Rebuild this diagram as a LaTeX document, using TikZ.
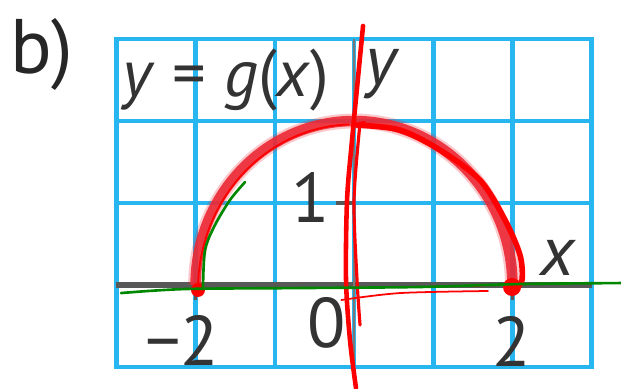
\documentclass[tikz,border=0pt]{standalone}
\usepackage{fontspec}
\setmainfont{PT Sans}
\usetikzlibrary{positioning}

\definecolor{gridblue}{RGB}{40,182,240}
\definecolor{axisgray}{RGB}{88,88,88}
\definecolor{curvered}{RGB}{236,40,52}
\definecolor{penred}{RGB}{255,0,0}
\definecolor{pengreen}{RGB}{0,135,0}

\begin{document}
\begin{tikzpicture}[
  x=1.584cm, y=1.64cm,
  gridline/.style={draw=gridblue, line width=2.6pt, line cap=rect},
  axis/.style={draw=axisgray, line width=3.4pt},
  yaxis/.style={draw=axisgray!80, line width=1.6pt},
  tickmark/.style={draw=axisgray, line width=2pt},
  curve/.style={draw=curvered, line width=6pt, opacity=0.9},
  pen/.style={draw=penred, line width=1.2pt, line cap=round, line join=round},
  greenpen/.style={draw=pengreen, line width=1.5pt, line cap=round, line join=round},
  lbl/.style={font=\fontsize{40}{44}\selectfont, text=black!80, inner sep=0pt},
]
\useasboundingbox (-4.47,-1.256) rectangle (3.371,3.476);

% ---- grid and axes ----------------------------------------------
\foreach \i in {-3,...,3}
  \draw[gridline] (\i,-1) -- (\i,3);
\foreach \j in {-1,...,3}
  \draw[gridline] (-3,\j) -- (3,\j);

\draw[axis]  (-3,0) -- (3,0);
\draw[yaxis] (0,-1) -- (0,3);
\draw[tickmark] (-0.227,1) -- (0,1);
\draw[tickmark] (-2,0) -- (-2,-0.18);
\draw[tickmark] (2,0) -- (2,-0.18);

% ---- graph of g -------------------------------------------------
\draw[curve, line width=8.5pt, opacity=0.25] (-2,0) arc[start angle=180, end angle=0, x radius=2, y radius=2];
\draw[curve] (-2,0) arc[start angle=180, end angle=0, x radius=2, y radius=2];

% ---- labels -----------------------------------------------------
\node[lbl, font=\fontsize{44}{48}\selectfont, text=black!85, anchor=base west] (part) at (-4.343,2.585) {b)};
\node[lbl, font=\fontsize{38}{42}\selectfont, anchor=base west] (gx) at (-2.93,2.293) {\textit{y} = \textit{g}(\textit{x})};
\node[lbl, anchor=base west] (ylab) at (0.139,2.44) {\textit{y}};
\node[lbl, anchor=base west] (xlab) at (2.348,0.122) {\textit{x}};
\node[lbl, anchor=base east] (one) at (-0.30,0.768) {1};
\node[lbl, anchor=base east] (zero) at (-0.10,-0.756) {0};
\node[lbl, anchor=base east] (mtwo) at (-1.70,-0.976) {−2};
\node[lbl, anchor=base] (ptwo) at (1.989,-0.988) {2};

% ---- hand marks -------------------------------------------------
\draw[pen, line width=1pt] (-1.97,-0.06) arc[start angle=180, end angle=92, x radius=1.97, y radius=2.02];
\draw[pen, line width=3.2pt] plot[smooth] coordinates {(0.038,1.951) (0.581,1.89) (1.086,1.646) (1.591,1.28) (1.907,0.793) (2.096,0.366) (2.121,0.061) (2.03,-0.06)};
\draw[pen, line width=2.6pt] plot[smooth] coordinates {(0.114,3.159) (-0.025,1.768) (-0.088,1.037) (-0.101,0.061) (-0.051,-0.671) (0.025,-1.256)};
\draw[pen, line width=1.8pt] plot[smooth] coordinates {(0.076,1.976) (0,1.037) (0.038,0.061) (0.076,-0.488)};
\draw[pen, line width=0.9pt] (0.14,1.99) -- (0.095,1.985) -- (0.09,1.94);
\draw[pen, line width=1pt] plot[smooth] coordinates {(-0.16,-0.183) (0.581,-0.098) (1.692,-0.073)};
\draw[pen, line width=1pt] (1.49,-0.012) -- (1.70,0);
\fill[penred] (-1.97,-0.06) circle[radius=0.14cm];
\fill[penred] (1.995,-0.024) circle[radius=0.18cm];

\draw[greenpen] plot[smooth] coordinates {(-2.942,-0.098) (-2.134,-0.049) (-0.682,-0.037) (0.833,-0.024) (2.096,0.012) (3.371,0.024)};
\draw[greenpen] plot[smooth] coordinates {(-1.907,-0.049) (-1.881,0.427) (-1.755,0.732) (-1.566,1.037) (-1.376,1.256)};

\end{tikzpicture}
\end{document}
